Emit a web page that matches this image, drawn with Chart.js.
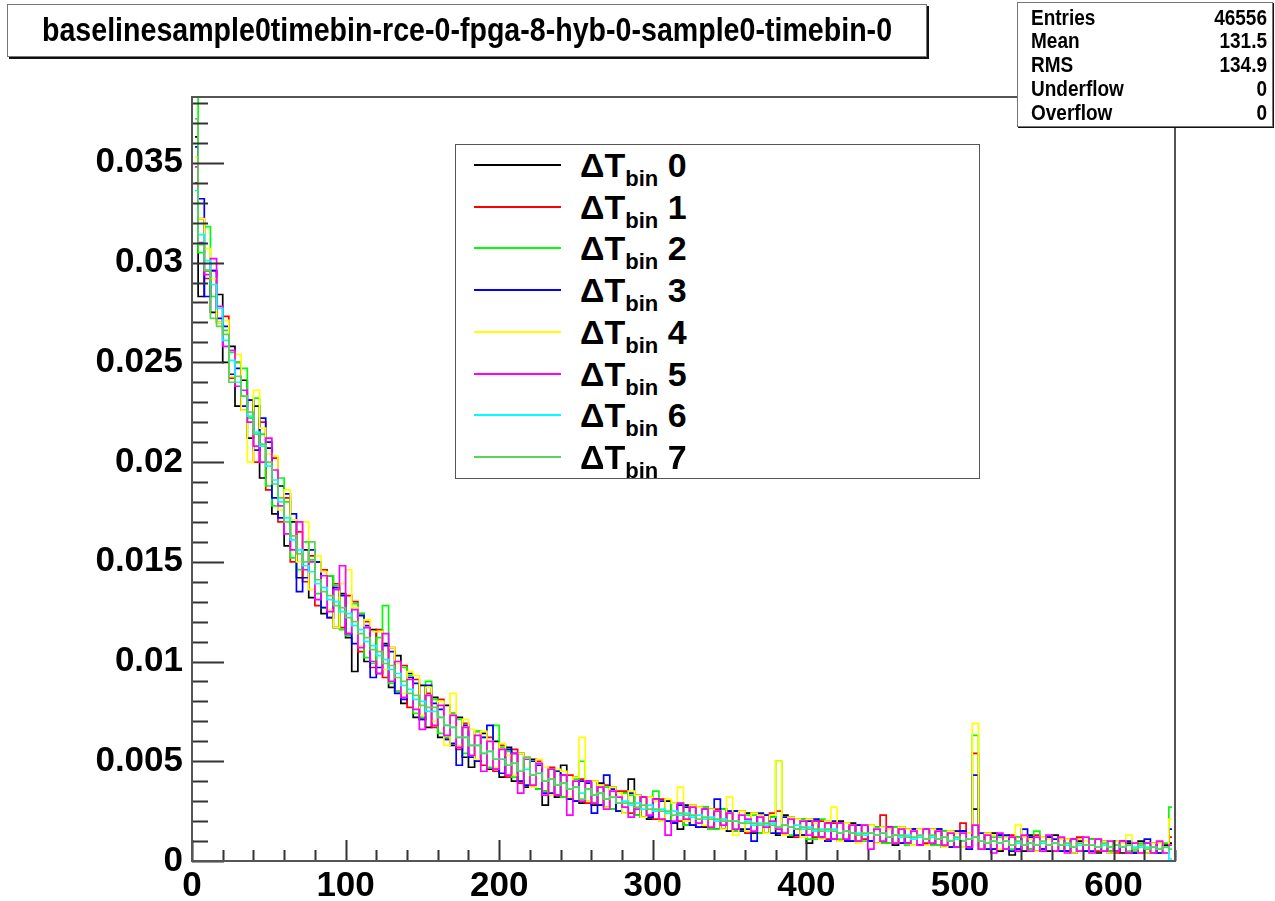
<!DOCTYPE html>
<html><head><meta charset="utf-8">
<script src="https://cdn.jsdelivr.net/npm/chart.js@4.4.0/dist/chart.umd.min.js"></script>
<style>
html,body{margin:0;padding:0;background:#fff;}
#wrap{position:relative;width:1275px;height:901px;overflow:hidden;font-family:"Liberation Sans",Arial,sans-serif;font-weight:bold;color:#000;}
#c{position:absolute;left:0;top:0;}
#title{position:absolute;left:7px;top:4px;width:918px;height:51px;border:1px solid #777;box-shadow:2px 2px 0 #111;background:#fff;display:flex;align-items:center;justify-content:center;}
#title span{font-size:28.6px;transform:scaleY(1.15);display:inline-block;white-space:nowrap;}
#stats{position:absolute;left:1017px;top:2px;width:254px;height:123px;border:1px solid #777;box-shadow:1px 1px 0 #111;background:#fff;}
.srow{position:absolute;left:13px;right:5px;height:24px;line-height:24px;font-size:19px;}
.srow span{display:inline-block;transform:scaleY(1.12);}
.srow .v{position:absolute;right:0;top:0;}
#legend{position:absolute;left:455px;top:144px;width:523px;height:333px;border:1px solid #555;background:#fff;}
.lrow{position:absolute;left:0;width:100%;height:40px;}
.lline{position:absolute;left:18px;width:87px;top:19px;height:0;border-top:2px solid #000;}
.ltxt{position:absolute;left:124px;top:0;height:40px;line-height:40px;font-size:34px;white-space:nowrap;}
.ltxt sub{font-size:22px;vertical-align:-9px;line-height:0;}
</style></head>
<body><div id="wrap"><canvas id="c" width="1275" height="901"></canvas>
<div id="title"><span id="ttext"></span></div>
<div id="stats"></div>
<div id="legend"></div>
</div>
<script>
// ---------------- data ----------------
const histTitle = "baselinesample0timebin-rce-0-fpga-8-hyb-0-sample0-timebin-0";
const statNames = ["Entries","Mean","RMS","Underflow","Overflow"];
const statValues = ["46556","131.5","134.9","0","0"];
const seriesLabels = ["0","1","2","3","4","5","6","7"];
const seriesColors = ["#000000","#ff0000","#00ff00","#0000ff","#ffff00","#ff00ff","#00ffff","#59d454"];
const xTickLabels = ["0","100","200","300","400","500","600"];
const yTickLabels = ["0","0.005","0.01","0.015","0.02","0.025","0.03","0.035"];
const xMin = 0, xMax = 640, binWidth = 4;
const yMax = 0.0383;

const dT0 = [
0.0363,0.0283,0.0296,0.0275,0.0284,0.0250,0.0258,0.0228,0.0241,0.0212,
0.0228,0.0192,0.0207,0.0174,0.0188,0.0158,0.0170,0.0142,0.0156,0.0132,
0.0150,0.0124,0.0143,0.0117,0.0134,0.0112,0.0095,0.0124,0.0100,0.0116,
0.0094,0.0109,0.0087,0.0103,0.0079,0.0094,0.0072,0.0088,0.0067,0.0082,
0.0062,0.0078,0.0058,0.0072,0.0052,0.0047,0.0050,0.0064,0.0046,0.0060,
0.0042,0.0057,0.0040,0.0054,0.0037,0.0051,0.0036,0.0028,0.0046,0.0032,
0.0048,0.0031,0.0042,0.0029,0.0040,0.0028,0.0039,0.0027,0.0037,0.0025,
0.0034,0.0041,0.0023,0.0032,0.0021,0.0031,0.0020,0.0030,0.0019,0.0016,
0.0028,0.0018,0.0027,0.0017,0.0026,0.0016,0.0026,0.0015,0.0025,0.0016,
0.0024,0.0014,0.0023,0.0014,0.0022,0.0013,0.0023,0.0012,0.0021,0.0013,
0.0009,0.0020,0.0012,0.0019,0.0011,0.0020,0.0010,0.0019,0.0010,0.0018,
0.0010,0.0017,0.0009,0.0017,0.0008,0.0017,0.0009,0.0016,0.0008,0.0016,
0.0008,0.0016,0.0007,0.0015,0.0007,0.0015,0.0007,0.0026,0.0006,0.0014,
0.0014,0.0005,0.0012,0.0003,0.0012,0.0005,0.0013,0.0005,0.0012,0.0005,
0.0013,0.0005,0.0011,0.0004,0.0010,0.0005,0.0011,0.0004,0.0010,0.0005,
0.0010,0.0004,0.0009,0.0004,0.0010,0.0004,0.0009,0.0004,0.0008,0.0009];

const dT1 = [
0.0340,0.0322,0.0292,0.0296,0.0270,0.0273,0.0242,0.0250,0.0226,0.0231,
0.0200,0.0220,0.0186,0.0202,0.0170,0.0182,0.0150,0.0165,0.0140,0.0153,
0.0128,0.0146,0.0122,0.0139,0.0117,0.0133,0.0130,0.0105,0.0120,0.0097,
0.0116,0.0092,0.0107,0.0085,0.0098,0.0077,0.0091,0.0071,0.0084,0.0067,
0.0081,0.0061,0.0074,0.0056,0.0069,0.0052,0.0065,0.0048,0.0062,0.0045,
0.0058,0.0042,0.0056,0.0039,0.0052,0.0037,0.0050,0.0035,0.0047,0.0033,
0.0032,0.0043,0.0030,0.0041,0.0029,0.0040,0.0028,0.0038,0.0026,0.0035,
0.0035,0.0024,0.0033,0.0022,0.0032,0.0021,0.0031,0.0020,0.0029,0.0020,
0.0018,0.0028,0.0017,0.0027,0.0016,0.0026,0.0016,0.0025,0.0015,0.0025,
0.0014,0.0024,0.0014,0.0023,0.0024,0.0025,0.0013,0.0022,0.0012,0.0021,
0.0021,0.0012,0.0020,0.0011,0.0019,0.0010,0.0019,0.0010,0.0018,0.0011,
0.0018,0.0009,0.0023,0.0009,0.0017,0.0009,0.0016,0.0008,0.0016,0.0009,
0.0016,0.0008,0.0015,0.0007,0.0015,0.0019,0.0007,0.0054,0.0006,0.0014,
0.0006,0.0013,0.0006,0.0013,0.0006,0.0012,0.0006,0.0013,0.0006,0.0012,
0.0005,0.0011,0.0005,0.0011,0.0012,0.0005,0.0011,0.0005,0.0010,0.0005,
0.0004,0.0010,0.0004,0.0009,0.0004,0.0009,0.0004,0.0009,0.0004,0.0012];

const dT2 = [
0.0392,0.0305,0.0318,0.0283,0.0270,0.0266,0.0255,0.0250,0.0247,0.0222,
0.0232,0.0214,0.0188,0.0178,0.0192,0.0180,0.0152,0.0146,0.0160,0.0151,
0.0134,0.0127,0.0143,0.0138,0.0116,0.0113,0.0129,0.0124,0.0102,0.0099,
0.0112,0.0128,0.0089,0.0085,0.0097,0.0093,0.0074,0.0072,0.0090,0.0081,
0.0064,0.0062,0.0074,0.0071,0.0054,0.0052,0.0065,0.0062,0.0047,0.0068,
0.0057,0.0055,0.0042,0.0040,0.0052,0.0050,0.0036,0.0035,0.0046,0.0045,
0.0032,0.0031,0.0041,0.0050,0.0030,0.0029,0.0038,0.0037,0.0026,0.0025,
0.0034,0.0033,0.0023,0.0022,0.0032,0.0035,0.0020,0.0020,0.0029,0.0029,
0.0018,0.0018,0.0027,0.0027,0.0016,0.0016,0.0026,0.0025,0.0015,0.0015,
0.0023,0.0023,0.0014,0.0014,0.0022,0.0050,0.0013,0.0013,0.0021,0.0021,
0.0011,0.0011,0.0021,0.0020,0.0011,0.0011,0.0019,0.0018,0.0010,0.0010,
0.0018,0.0017,0.0009,0.0009,0.0017,0.0017,0.0008,0.0008,0.0016,0.0016,
0.0008,0.0008,0.0015,0.0015,0.0007,0.0007,0.0014,0.0063,0.0006,0.0006,
0.0012,0.0012,0.0006,0.0006,0.0012,0.0012,0.0006,0.0015,0.0012,0.0012,
0.0005,0.0005,0.0011,0.0011,0.0005,0.0005,0.0011,0.0011,0.0005,0.0005,
0.0010,0.0010,0.0005,0.0005,0.0009,0.0009,0.0004,0.0004,0.0009,0.0027];

const dT3 = [
0.0358,0.0332,0.0283,0.0296,0.0272,0.0268,0.0244,0.0247,0.0228,0.0231,
0.0206,0.0222,0.0210,0.0182,0.0172,0.0184,0.0174,0.0135,0.0142,0.0156,
0.0150,0.0127,0.0122,0.0137,0.0133,0.0114,0.0109,0.0123,0.0118,0.0092,
0.0097,0.0108,0.0105,0.0084,0.0081,0.0092,0.0089,0.0071,0.0088,0.0079,
0.0076,0.0061,0.0059,0.0048,0.0068,0.0052,0.0050,0.0062,0.0068,0.0046,
0.0044,0.0056,0.0054,0.0040,0.0038,0.0050,0.0048,0.0034,0.0034,0.0045,
0.0043,0.0031,0.0030,0.0040,0.0039,0.0024,0.0028,0.0043,0.0036,0.0025,
0.0024,0.0034,0.0033,0.0022,0.0022,0.0031,0.0030,0.0020,0.0019,0.0028,
0.0027,0.0018,0.0017,0.0026,0.0026,0.0031,0.0016,0.0025,0.0025,0.0015,
0.0016,0.0010,0.0024,0.0023,0.0014,0.0014,0.0022,0.0022,0.0013,0.0013,
0.0020,0.0021,0.0011,0.0010,0.0020,0.0019,0.0010,0.0010,0.0018,0.0018,
0.0010,0.0009,0.0017,0.0017,0.0009,0.0009,0.0016,0.0016,0.0008,0.0008,
0.0016,0.0016,0.0007,0.0007,0.0015,0.0015,0.0006,0.0043,0.0014,0.0006,
0.0006,0.0013,0.0013,0.0005,0.0006,0.0016,0.0012,0.0005,0.0006,0.0012,
0.0011,0.0005,0.0005,0.0011,0.0011,0.0005,0.0005,0.0011,0.0010,0.0004,
0.0005,0.0010,0.0010,0.0004,0.0004,0.0011,0.0009,0.0004,0.0004,0.0016];

const dT4 = [
0.0353,0.0322,0.0307,0.0292,0.0270,0.0271,0.0243,0.0254,0.0226,0.0200,
0.0236,0.0217,0.0204,0.0203,0.0176,0.0186,0.0171,0.0150,0.0170,0.0136,
0.0153,0.0145,0.0126,0.0117,0.0139,0.0146,0.0127,0.0108,0.0121,0.0115,
0.0115,0.0096,0.0107,0.0099,0.0084,0.0095,0.0093,0.0073,0.0087,0.0070,
0.0080,0.0058,0.0084,0.0058,0.0071,0.0066,0.0051,0.0065,0.0060,0.0047,
0.0059,0.0053,0.0043,0.0054,0.0052,0.0037,0.0051,0.0047,0.0033,0.0046,
0.0045,0.0032,0.0042,0.0062,0.0030,0.0040,0.0038,0.0027,0.0037,0.0034,
0.0024,0.0035,0.0033,0.0022,0.0032,0.0030,0.0020,0.0031,0.0029,0.0037,
0.0020,0.0028,0.0027,0.0018,0.0026,0.0025,0.0016,0.0032,0.0013,0.0025,
0.0015,0.0024,0.0023,0.0014,0.0023,0.0050,0.0013,0.0022,0.0021,0.0012,
0.0021,0.0019,0.0011,0.0020,0.0027,0.0010,0.0019,0.0018,0.0009,0.0018,
0.0018,0.0009,0.0017,0.0016,0.0009,0.0017,0.0016,0.0008,0.0016,0.0008,
0.0016,0.0015,0.0007,0.0015,0.0014,0.0007,0.0014,0.0069,0.0006,0.0014,
0.0013,0.0006,0.0012,0.0012,0.0018,0.0012,0.0011,0.0005,0.0012,0.0011,
0.0005,0.0011,0.0011,0.0004,0.0011,0.0010,0.0004,0.0011,0.0010,0.0004,
0.0010,0.0009,0.0013,0.0009,0.0004,0.0004,0.0009,0.0009,0.0004,0.0021];

const dT5 = [
0.0348,0.0310,0.0294,0.0302,0.0278,0.0258,0.0256,0.0238,0.0236,0.0220,
0.0208,0.0200,0.0212,0.0196,0.0178,0.0164,0.0156,0.0170,0.0146,0.0150,
0.0131,0.0143,0.0125,0.0136,0.0148,0.0114,0.0126,0.0107,0.0117,0.0100,
0.0094,0.0114,0.0090,0.0100,0.0082,0.0091,0.0076,0.0066,0.0083,0.0068,
0.0078,0.0063,0.0073,0.0057,0.0067,0.0053,0.0063,0.0045,0.0060,0.0046,
0.0056,0.0043,0.0054,0.0034,0.0051,0.0038,0.0049,0.0033,0.0046,0.0033,
0.0043,0.0023,0.0040,0.0030,0.0040,0.0029,0.0037,0.0026,0.0035,0.0032,
0.0027,0.0022,0.0026,0.0032,0.0023,0.0031,0.0021,0.0013,0.0020,0.0029,
0.0021,0.0027,0.0019,0.0026,0.0017,0.0025,0.0018,0.0024,0.0016,0.0023,
0.0021,0.0015,0.0022,0.0017,0.0020,0.0016,0.0014,0.0021,0.0016,0.0020,
0.0013,0.0020,0.0012,0.0019,0.0011,0.0019,0.0011,0.0018,0.0010,0.0018,
0.0006,0.0016,0.0010,0.0017,0.0009,0.0016,0.0009,0.0015,0.0008,0.0016,
0.0009,0.0015,0.0008,0.0014,0.0007,0.0014,0.0007,0.0018,0.0006,0.0013,
0.0004,0.0014,0.0006,0.0012,0.0005,0.0013,0.0005,0.0012,0.0005,0.0013,
0.0005,0.0012,0.0004,0.0011,0.0005,0.0012,0.0004,0.0011,0.0005,0.0010,
0.0005,0.0010,0.0004,0.0009,0.0004,0.0009,0.0004,0.0010,0.0004,0.0008];

const dT6 = [
0.0336,0.0314,0.0301,0.0289,0.0277,0.0261,0.0251,0.0240,0.0233,0.0223,
0.0215,0.0208,0.0198,0.0191,0.0180,0.0172,0.0161,0.0156,0.0148,0.0145,
0.0139,0.0137,0.0131,0.0130,0.0125,0.0124,0.0118,0.0116,0.0110,0.0108,
0.0103,0.0101,0.0096,0.0094,0.0088,0.0086,0.0081,0.0080,0.0075,0.0075,
0.0072,0.0068,0.0067,0.0062,0.0062,0.0058,0.0058,0.0054,0.0055,0.0051,
0.0051,0.0048,0.0049,0.0045,0.0046,0.0043,0.0044,0.0040,0.0041,0.0038,
0.0039,0.0036,0.0037,0.0034,0.0036,0.0033,0.0034,0.0031,0.0032,0.0029,
0.0030,0.0028,0.0029,0.0026,0.0028,0.0025,0.0026,0.0024,0.0025,0.0023,
0.0024,0.0022,0.0023,0.0021,0.0022,0.0020,0.0021,0.0020,0.0020,0.0019,
0.0020,0.0018,0.0019,0.0018,0.0019,0.0017,0.0018,0.0017,0.0018,0.0016,
0.0017,0.0015,0.0016,0.0015,0.0016,0.0014,0.0015,0.0014,0.0014,0.0013,
0.0014,0.0013,0.0014,0.0012,0.0013,0.0012,0.0013,0.0011,0.0012,0.0011,
0.0012,0.0011,0.0012,0.0010,0.0011,0.0010,0.0011,0.0012,0.0010,0.0009,
0.0010,0.0009,0.0010,0.0008,0.0009,0.0008,0.0009,0.0008,0.0009,0.0008,
0.0009,0.0008,0.0008,0.0007,0.0008,0.0008,0.0008,0.0007,0.0008,0.0007,
0.0008,0.0007,0.0008,0.0007,0.0007,0.0007,0.0007,0.0006,0.0007,0.0001];

const dT7 = [
0.0372,0.0309,0.0296,0.0272,0.0268,0.0264,0.0240,0.0243,0.0233,0.0225,
0.0214,0.0209,0.0200,0.0189,0.0182,0.0170,0.0163,0.0154,0.0150,0.0160,
0.0141,0.0135,0.0133,0.0128,0.0127,0.0122,0.0120,0.0114,0.0112,0.0106,
0.0105,0.0099,0.0098,0.0092,0.0090,0.0084,0.0083,0.0078,0.0077,0.0077,
0.0072,0.0068,0.0067,0.0062,0.0062,0.0058,0.0058,0.0054,0.0055,0.0051,
0.0051,0.0048,0.0049,0.0045,0.0052,0.0043,0.0044,0.0040,0.0041,0.0038,
0.0039,0.0036,0.0037,0.0031,0.0036,0.0033,0.0034,0.0031,0.0032,0.0029,
0.0029,0.0029,0.0027,0.0028,0.0026,0.0026,0.0025,0.0025,0.0023,0.0024,
0.0023,0.0023,0.0021,0.0022,0.0021,0.0021,0.0020,0.0020,0.0020,0.0019,
0.0019,0.0019,0.0018,0.0019,0.0018,0.0017,0.0018,0.0017,0.0016,0.0017,
0.0016,0.0016,0.0015,0.0016,0.0015,0.0014,0.0015,0.0014,0.0013,0.0014,
0.0014,0.0013,0.0014,0.0012,0.0013,0.0013,0.0012,0.0012,0.0013,0.0011,
0.0013,0.0011,0.0012,0.0010,0.0012,0.0010,0.0011,0.0012,0.0010,0.0009,
0.0010,0.0009,0.0010,0.0008,0.0010,0.0008,0.0009,0.0008,0.0010,0.0008,
0.0009,0.0008,0.0009,0.0007,0.0009,0.0008,0.0008,0.0007,0.0009,0.0007,
0.0008,0.0007,0.0008,0.0006,0.0008,0.0006,0.0007,0.0006,0.0007,0.0006];

const seriesValues = [dT0,dT1,dT2,dT3,dT4,dT5,dT6,dT7];

// ---------------- overlays (real text) ----------------
document.getElementById('ttext').textContent = histTitle;
const statCenters = [18,41,65,89,113];
const statsEl = document.getElementById('stats');
statNames.forEach((n,i)=>{
  const r = document.createElement('div'); r.className='srow';
  r.style.top = (statCenters[i]-2-12-1)+'px';
  r.innerHTML = '<span></span><span class="v"></span>';
  r.children[0].textContent = n; r.children[1].textContent = statValues[i];
  statsEl.appendChild(r);
});
const legEl = document.getElementById('legend');
seriesLabels.forEach((lab,i)=>{
  const r = document.createElement('div'); r.className='lrow';
  r.style.top = (21 + i*41.7 - 20 - 1)+'px';
  const ln = document.createElement('div'); ln.className='lline'; ln.style.borderTopColor = seriesColors[i];
  const tx = document.createElement('div'); tx.className='ltxt';
  tx.innerHTML = '\u0394T<sub>bin</sub> ';
  tx.appendChild(document.createTextNode(lab));
  r.appendChild(ln); r.appendChild(tx); legEl.appendChild(r);
});

// ---------------- chart ----------------
const tickFont = {family:'"Liberation Sans", Arial, sans-serif', size:35, weight:'bold'};
const rootFrame = {
  id:'rootFrame',
  afterDraw(chart){
    const {ctx, chartArea:a, scales:{x, y}} = chart;
    ctx.save();
    ctx.strokeStyle = '#333'; ctx.lineWidth = 2;
    ctx.beginPath();
    for (let v = 0; v <= yMax + 1e-9; v += 0.001) {
      const py = Math.round(y.getPixelForValue(v)) + 0.5;
      const major = Math.abs(v/0.005 - Math.round(v/0.005)) < 1e-6;
      ctx.moveTo(a.left, py); ctx.lineTo(a.left + (major ? 32 : 16), py);
    }
    for (let v = xMin; v <= xMax; v += 20) {
      const px = Math.round(x.getPixelForValue(v)) + 0.5;
      const major = v % 100 === 0;
      ctx.moveTo(px, a.bottom); ctx.lineTo(px, a.bottom - (major ? 21 : 11));
    }
    ctx.stroke();
    ctx.strokeStyle = '#555'; ctx.lineWidth = 2;
    ctx.strokeRect(a.left, a.top, a.right - a.left, a.bottom - a.top);
    ctx.restore();
  }
};

new Chart(document.getElementById('c'), {
  type: 'line',
  data: {
    datasets: seriesValues.map((vals, i) => ({
      label: '\u0394T bin ' + seriesLabels[i],
      data: vals.map((v, k) => ({x: xMin + (k + 0.5) * binWidth, y: v})),
      borderColor: seriesColors[i],
      backgroundColor: seriesColors[i],
      borderWidth: 1.7,
      pointRadius: 0,
      stepped: 'middle',
      fill: false,
      order: seriesValues.length - 1 - i
    }))
  },
  options: {
    responsive: false, animation: false, devicePixelRatio: 1,
    layout: {padding: {left: 0, right: 100, top: 97, bottom: 0}},
    plugins: {legend: {display: false}, tooltip: {enabled: false}, title: {display: false}},
    scales: {
      x: {
        type: 'linear', min: xMin, max: xMax,
        afterFit(s){ s.height = 40; },
        grid: {display: false, drawTicks: false}, border: {display: false},
        ticks: {stepSize: 100, includeBounds: false, autoSkip: false, maxRotation: 0, padding: 4,
                color: '#000', font: tickFont, callback: (v, i) => xTickLabels[i]}
      },
      y: {
        type: 'linear', min: 0, max: yMax,
        afterFit(s){ s.width = 192; },
        grid: {display: false, drawTicks: false}, border: {display: false},
        ticks: {stepSize: 0.005, includeBounds: false, autoSkip: false, padding: 9,
                color: '#000', font: tickFont, callback: (v, i) => yTickLabels[i]}
      }
    }
  },
  plugins: [rootFrame]
});
</script>
</body></html>
